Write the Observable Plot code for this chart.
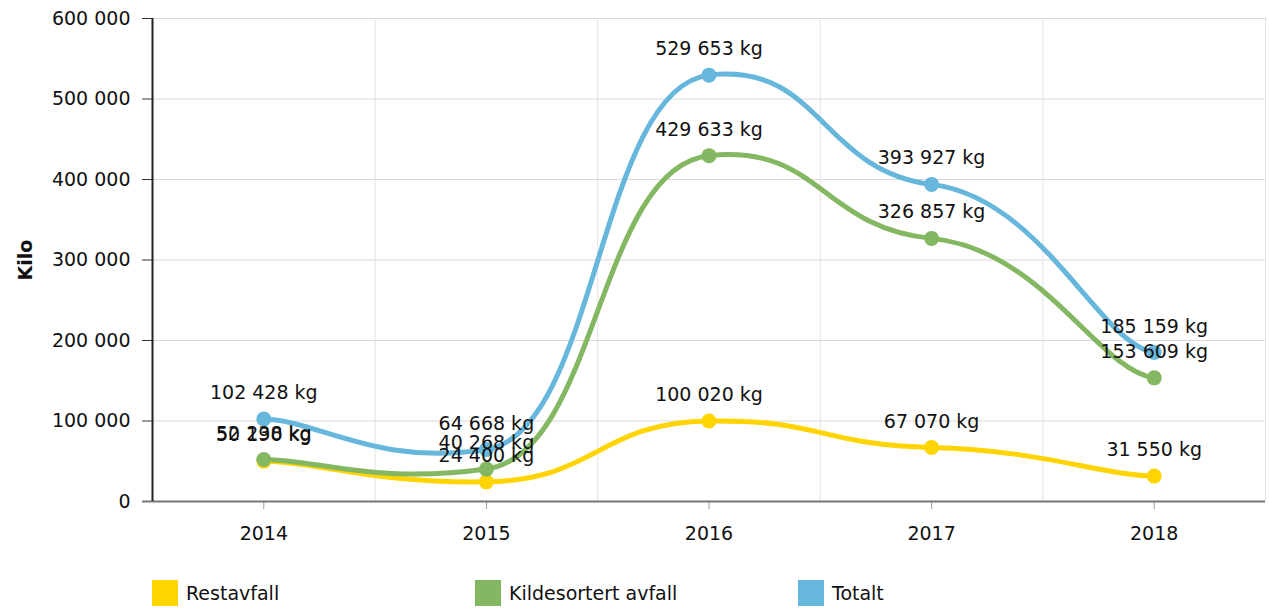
<!DOCTYPE html>
<html>
<head>
<meta charset="utf-8">
<script src="https://cdn.jsdelivr.net/npm/d3@7"></script>
<script src="https://cdn.jsdelivr.net/npm/@observablehq/plot@0.6"></script>
<style>
  html, body { margin: 0; padding: 0; background: #fff; }
  body { width: 1269px; height: 609px; overflow: hidden; font-family: "DejaVu Sans", Verdana, sans-serif; }
  #chart svg { display: block; }
  .legend { position: absolute; top: 580px; left: 0; width: 1269px; height: 28px; font-size: 19px; color: #111; }
  .legend .item { position: absolute; top: 0; display: flex; align-items: center; height: 26px; }
  .legend .sw { width: 26px; height: 26px; margin-right: 8px; }
</style>
</head>
<body>
<div id="chart"></div>
<div class="legend" id="legend"></div>
<script>
const years = [2014, 2015, 2016, 2017, 2018];
const seriesNames = ["Restavfall", "Kildesortert avfall", "Totalt"];
const restavfall = [50190, 24400, 100020, 67070, 31550];
const kildesortert = [52238, 40268, 429633, 326857, 153609];
const totalt = [102428, 64668, 529653, 393927, 185159];
const colors = ["#ffd400", "#84b761", "#67b7dc"];
const yTicks = [0, 100000, 200000, 300000, 400000, 500000, 600000];

const fmt = v => d3.format(",")(v).replace(/,/g, " ");
const seriesValues = [restavfall, kildesortert, totalt];
const data = [];
seriesNames.forEach((s, i) => years.forEach((y, j) => data.push({series: s, year: y, value: seriesValues[i][j]})));

// Smoothed-line curve: tangent at each point = ((next.x-prev.x)/4, (next.y-prev.y)/20)
function SmoothCurve(context) { this._context = context; }
SmoothCurve.prototype = {
  areaStart() { this._line = 0; },
  areaEnd() { this._line = NaN; },
  lineStart() { this._pts = []; },
  point(x, y) { this._pts.push([+x, +y]); },
  lineEnd() {
    const p = this._pts, n = p.length, ctx = this._context;
    if (!n) return;
    const bx = 4, by = 20;
    const d = p.map((pt, i) => {
      const a = p[i - 1] || pt, b = p[i + 1] || pt;
      return [(b[0] - a[0]) / bx, (b[1] - a[1]) / by];
    });
    ctx.moveTo(p[0][0], p[0][1]);
    for (let i = 1; i < n; i++) {
      ctx.bezierCurveTo(
        p[i - 1][0] + d[i - 1][0], p[i - 1][1] + d[i - 1][1],
        p[i][0] - d[i][0], p[i][1] - d[i][1],
        p[i][0], p[i][1]);
    }
  }
};
const curveSmooth = ctx => new SmoothCurve(ctx);

const W = 1269, H = 565;
const chart = Plot.plot({
  width: W, height: H,
  marginTop: 18, marginBottom: 64, marginLeft: 152, marginRight: 4,
  style: {fontFamily: "DejaVu Sans, Verdana, sans-serif", fontSize: "19px", color: "#111", background: "#fff"},
  x: {domain: [2013.5, 2018.5], label: null},
  y: {domain: [0, 600000], label: null},
  color: {domain: seriesNames, range: colors},
  marks: [
    Plot.ruleY(yTicks.slice(1), {stroke: "#d9d9d9", strokeWidth: 1}),
    Plot.ruleX([2014.5, 2015.5, 2016.5, 2017.5, 2018.5], {stroke: "#e3e3e3", strokeWidth: 1}),
    Plot.axisY({ticks: yTicks, tickFormat: fmt, tickSize: 10, tickPadding: 12, stroke: "#333", label: null, fontSize: 19}),
    Plot.axisX({ticks: years, tickFormat: d => String(d), tickSize: 8, tickPadding: 17, stroke: "#999", label: null, fontSize: 19}),
    Plot.ruleY([0], {stroke: "#777", strokeWidth: 2, insetLeft: -10}),
    Plot.ruleX([2013.5], {stroke: "#222", strokeWidth: 2}),
    Plot.line(data, {x: "year", y: "value", z: "series", stroke: "series", strokeWidth: 5, curve: curveSmooth}),
    Plot.dot(data, {x: "year", y: "value", fill: "series", r: 7.5, stroke: "none"}),
    Plot.text(data, {x: "year", y: "value", text: d => fmt(d.value) + " kg", dy: -26, fill: "#111", fontSize: 19}),
    Plot.text(["Kilo"], {frameAnchor: "left", textAnchor: "middle", dx: -127, rotate: -90, fontWeight: "bold", fontSize: 19, fill: "#111"})
  ]
});
document.getElementById("chart").appendChild(chart);

const legend = document.getElementById("legend");
const legendX = [152, 475, 798];
seriesNames.forEach((s, i) => {
  const it = document.createElement("div");
  it.className = "item";
  it.style.left = legendX[i] + "px";
  const sw = document.createElement("div");
  sw.className = "sw";
  sw.style.background = colors[i];
  const t = document.createElement("span");
  t.textContent = s;
  it.appendChild(sw); it.appendChild(t);
  legend.appendChild(it);
});
</script>
</body>
</html>
